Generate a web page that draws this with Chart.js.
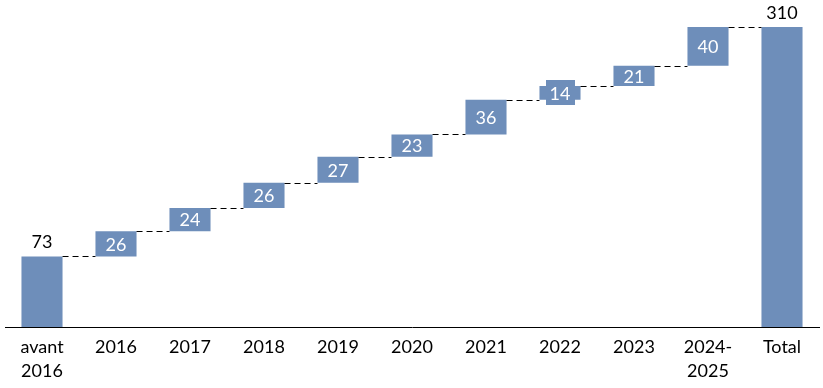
<!DOCTYPE html>
<html>
<head>
<meta charset="utf-8">
<script src="https://cdn.jsdelivr.net/npm/chart.js@4/dist/chart.umd.min.js"></script>
<style>
html,body{margin:0;padding:0;background:#fff;}
canvas{display:block;}
</style>
</head>
<body>
<canvas id="c" width="823" height="388"></canvas>
<script>
// --- Data ---
const categories = [['avant','2016'], '2016', '2017', '2018', '2019', '2020', '2021', '2022', '2023', ['2024-','2025'], 'Total'];
const increments = [73, 26, 24, 26, 27, 23, 36, 14, 21, 40];
const totalValue = 310;

// Build floating bar ranges from increments
const ranges = [];
const cumulative = [];
let run = 0;
increments.forEach((v, i) => {
  if (i === 0) { ranges.push([0, v]); }
  else { ranges.push([run, run + v]); }
  run += v;
  cumulative.push(run);
});
ranges.push([0, totalValue]);
cumulative.push(totalValue);
const displayValues = increments.concat([totalValue]);

const BLUE = '#6E8EBA';
const FONT = 'Lato, "Open Sans", sans-serif';

const waterfallPlugin = {
  id: 'waterfall',
  afterDatasetsDraw(chart) {
    const ctx = chart.ctx;
    const meta = chart.getDatasetMeta(0);
    const y = chart.scales.y;
    ctx.save();
    // connectors
    ctx.strokeStyle = '#000';
    ctx.lineWidth = 1;
    ctx.setLineDash([6, 4]);
    for (let i = 0; i < meta.data.length - 1; i++) {
      const a = meta.data[i], b = meta.data[i + 1];
      const yy = Math.round(y.getPixelForValue(cumulative[i])) + 0.5;
      ctx.beginPath();
      ctx.moveTo(a.x + a.width / 2, yy);
      ctx.lineTo(b.x - b.width / 2, yy);
      ctx.stroke();
    }
    ctx.setLineDash([]);
    // labels
    ctx.font = '18px ' + FONT;
    ctx.textAlign = 'center';
    ctx.textBaseline = 'middle';
    meta.data.forEach((bar, i) => {
      const txt = String(displayValues[i]);
      const isFull = (i === 0 || i === meta.data.length - 1);
      if (isFull) {
        ctx.fillStyle = '#000';
        ctx.fillText(txt, bar.x, Math.min(bar.y, bar.base) - 14);
      } else {
        const cy = (bar.y + bar.base) / 2;
        const bh = Math.abs(bar.base - bar.y);
        if (bh < 18) {
          const w = ctx.measureText(txt).width + 8;
          const h = 25;
          ctx.fillStyle = BLUE;
          ctx.fillRect(Math.round(bar.x - w / 2), Math.round(cy - h / 2), Math.round(w), h);
        }
        ctx.fillStyle = '#fff';
        ctx.fillText(txt, bar.x, cy + 1);
      }
    });
    ctx.restore();
  }
};

new Chart(document.getElementById('c'), {
  type: 'bar',
  data: {
    labels: categories,
    datasets: [{
      data: ranges,
      backgroundColor: BLUE,
      borderWidth: 0,
      barPercentage: 0.555,
      categoryPercentage: 1.0
    }]
  },
  options: {
    responsive: false,
    devicePixelRatio: 1,
    animation: false,
    layout: { padding: { left: 5, right: 4, top: 0, bottom: 0 } },
    plugins: { legend: { display: false }, tooltip: { enabled: false } },
    scales: {
      x: {
        grid: { display: false, drawTicks: false },
        border: { display: true, color: '#000', width: 1 },
        ticks: { color: '#000', font: { family: FONT, size: 18, lineHeight: 1.33 }, padding: 8, maxRotation: 0, autoSkip: false },
        afterFit(scale) { scale.height = 61; }
      },
      y: {
        display: false,
        min: 0,
        max: 338
      }
    }
  },
  plugins: [waterfallPlugin]
});
</script>
</body>
</html>
